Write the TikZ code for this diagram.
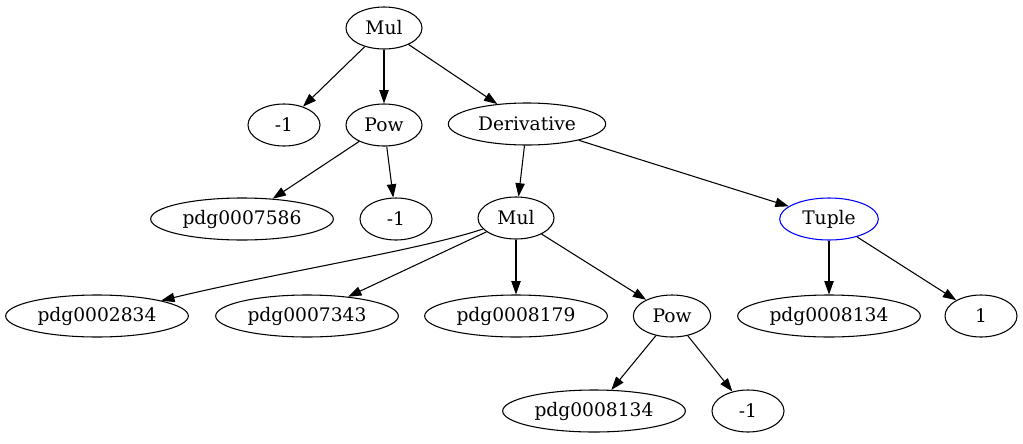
\documentclass[tikz,border=0pt]{standalone}
\usepackage{fontspec}
\setmainfont{DejaVu Serif}
\usetikzlibrary{arrows.meta,shapes.geometric}

\tikzset{
  gv/.style={draw, ellipse, line width=0.8pt, inner sep=0pt, font=\fontsize{14}{16}\selectfont},
  edge/.style={line width=0.8pt, -{Triangle[length=10pt,width=7pt]}}
}

\begin{document}
\begin{tikzpicture}[x=0.75pt,y=-0.75pt]
\useasboundingbox (0,0) rectangle (1023,443) ;

\node[gv, minimum width=57pt, minimum height=31.5pt] (mul) at (384,28) {Mul} ;
\node[gv, minimum width=54pt, minimum height=31.5pt] (neg1) at (284,125) {-1} ;
\node[gv, minimum width=57pt, minimum height=31.5pt] (pow) at (384,125) {Pow} ;
\node[gv, minimum width=118pt, minimum height=31.5pt] (deriv) at (527,124) {Derivative} ;

\node[gv, minimum width=137pt, minimum height=31.5pt] (p7586) at (242,219) {pdg0007586} ;
\node[gv, minimum width=54pt, minimum height=31.5pt] (neg1b) at (396,219) {-1} ;
\node[gv, minimum width=57pt, minimum height=31.5pt] (mul2) at (516,218) {Mul} ;
\node[gv, draw=blue, minimum width=74pt, minimum height=31.5pt] (tuple) at (829,219) {Tuple} ;

\node[gv, minimum width=137pt, minimum height=31.5pt] (p2834) at (97,316) {pdg0002834} ;
\node[gv, minimum width=137pt, minimum height=31.5pt] (p7343) at (307,316) {pdg0007343} ;
\node[gv, minimum width=137pt, minimum height=31.5pt] (p8179) at (516,316) {pdg0008179} ;
\node[gv, minimum width=58pt, minimum height=31.5pt] (pow2) at (672,316) {Pow} ;
\node[gv, minimum width=137pt, minimum height=31.5pt] (p8134a) at (829,316) {pdg0008134} ;
\node[gv, minimum width=54pt, minimum height=31.5pt] (one) at (981,316) {1} ;

\node[gv, minimum width=137pt, minimum height=31.5pt] (p8134b) at (594,411) {pdg0008134} ;
\node[gv, minimum width=54pt, minimum height=31.5pt] (neg1c) at (748,411) {-1} ;

\draw[edge] (mul) -- (neg1) ;
\draw[edge] (mul) -- (pow) ;
\draw[edge] (mul) -- (deriv) ;
\draw[edge] (pow) -- (p7586) ;
\draw[edge] (pow) -- (neg1b) ;
\draw[edge] (deriv) -- (mul2) ;
\draw[edge] (deriv) -- (tuple) ;
\draw[edge] (mul2) .. controls (420,250) and (280,272) .. (p2834) ;
\draw[edge] (mul2) -- (p7343) ;
\draw[edge] (mul2) -- (p8179) ;
\draw[edge] (mul2) -- (pow2) ;
\draw[edge] (tuple) -- (p8134a) ;
\draw[edge] (tuple) -- (one) ;
\draw[edge] (pow2) -- (p8134b) ;
\draw[edge] (pow2) -- (neg1c) ;

\end{tikzpicture}
\end{document}
